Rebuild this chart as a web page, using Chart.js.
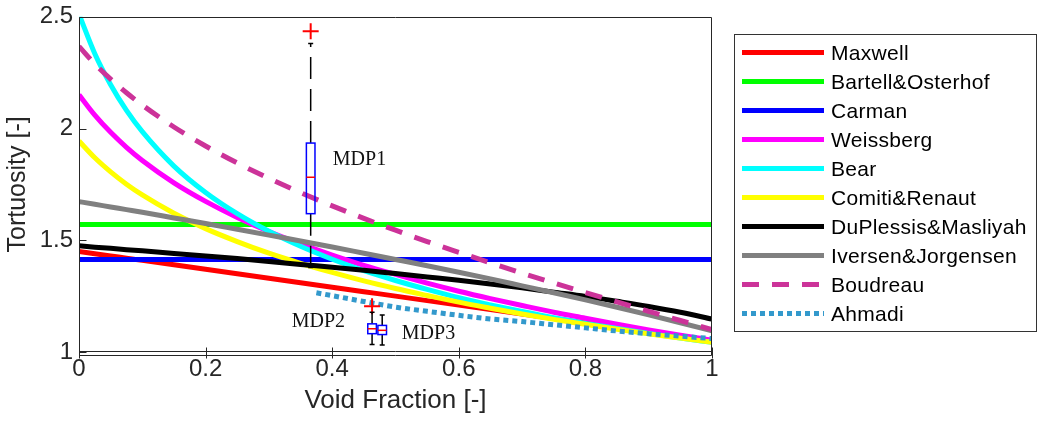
<!DOCTYPE html>
<html>
<head>
<meta charset="utf-8">
<script src="https://cdn.jsdelivr.net/npm/chart.js@4.4.1/dist/chart.umd.min.js"></script>
<style>
  html, body { margin: 0; padding: 0; background: #ffffff; }
  canvas { display: block; }
</style>
</head>
<body>
<canvas id="chart" width="1038" height="421"></canvas>
<script>
// ---- Model curves: tortuosity against void fraction ----
const voidFraction = [0, 0.025, 0.05, 0.075, 0.1, 0.15, 0.2, 0.25, 0.3, 0.35, 0.4, 0.45, 0.5,
                      0.55, 0.6, 0.65, 0.7, 0.75, 0.8, 0.85, 0.9, 0.95, 1];
const maxwell = [1.45, 1.44, 1.43, 1.42, 1.41, 1.39, 1.37, 1.35, 1.33, 1.31, 1.29, 1.27, 1.25,
                 1.23, 1.21, 1.19, 1.17, 1.15, 1.13, 1.11, 1.09, 1.07, 1.05];
const weissberg = [2.151, 2.060, 1.983, 1.916, 1.857, 1.757, 1.674, 1.602, 1.539, 1.484, 1.434, 1.388, 1.347,
                   1.308, 1.272, 1.239, 1.208, 1.178, 1.151, 1.124, 1.099, 1.075, 1.053];
const bear = [2.512, 2.335, 2.196, 2.081, 1.986, 1.832, 1.714, 1.619, 1.540, 1.473, 1.415, 1.364, 1.320,
              1.280, 1.243, 1.211, 1.181, 1.153, 1.128, 1.105, 1.083, 1.062, 1.043];
const comitiRenaut = [1.944, 1.869, 1.806, 1.751, 1.703, 1.621, 1.552, 1.494, 1.442, 1.397, 1.356, 1.318, 1.284,
                      1.253, 1.223, 1.196, 1.170, 1.146, 1.124, 1.102, 1.081, 1.062, 1.043];
const duPlessisMasliyah = [1.475, 1.469, 1.464, 1.458, 1.453, 1.441, 1.430, 1.418, 1.405, 1.392, 1.379, 1.366, 1.351,
                           1.336, 1.321, 1.304, 1.287, 1.268, 1.249, 1.227, 1.204, 1.178, 1.147];
const iversenJorgensen = [1.673, 1.661, 1.649, 1.637, 1.625, 1.600, 1.575, 1.549, 1.523, 1.497, 1.470, 1.442, 1.414,
                          1.386, 1.357, 1.327, 1.296, 1.265, 1.233, 1.200, 1.166, 1.131, 1.095];
const boudreau = [2.368, 2.289, 2.221, 2.160, 2.105, 2.007, 1.922, 1.846, 1.777, 1.713, 1.654, 1.598, 1.545,
                  1.494, 1.446, 1.399, 1.353, 1.309, 1.266, 1.224, 1.182, 1.141, 1.100];

// Constant models span the whole axis
const fullRange = [0, 1];
const bartellOsterhof = [1.571, 1.571];
const carman = [1.414, 1.414];

// Ahmadi is only defined from about 0.375 upwards
const ahmadiFraction = [0.375, 0.4, 0.45, 0.5, 0.55, 0.6, 0.65, 0.7, 0.75, 0.8, 0.85, 0.9, 0.95, 1];
const ahmadi = [1.265, 1.252, 1.226, 1.201, 1.182, 1.164, 1.148, 1.136, 1.122, 1.108, 1.094, 1.082, 1.071, 1.060];

// ---- Measured distributions (box plots) ----
const boxNames = ['MDP1', 'MDP2', 'MDP3'];
const boxPosition = [0.366, 0.463, 0.479];
const boxLowerWhisker = [1.378, 1.034, 1.031];
const boxQ1 = [1.619, 1.082, 1.078];
const boxMedian = [1.782, 1.104, 1.097];
const boxQ3 = [1.935, 1.126, 1.119];
const boxUpperWhisker = [2.380, 1.178, 1.166];
const outlierPosition = [0.366, 0.463];
const outlierValue = [2.435, 1.205];

// ---- Axis ticks ----
const xTickStep = 0.2;
const yTickStep = 0.5;

const FONT = "'Liberation Sans', Arial, Helvetica, sans-serif";
const AXIS_COLOR = '#262626';

function curve(label, xs, ys, color, extra) {
  return Object.assign({
    type: 'line',
    label: label,
    data: xs.map((x, i) => ({ x: x, y: ys[i] })),
    borderColor: color,
    backgroundColor: color,
    borderWidth: 5,
    borderCapStyle: 'butt',
    pointRadius: 0,
    fill: false,
    cubicInterpolationMode: 'monotone',
    clip: 0,
    inLegend: true
  }, extra || {});
}

const curves = [
  curve('Maxwell', voidFraction, maxwell, '#ff0000'),
  curve('Bartell&Osterhof', fullRange, bartellOsterhof, '#00ff00'),
  curve('Carman', fullRange, carman, '#0000ff'),
  curve('Weissberg', voidFraction, weissberg, '#ff00ff'),
  curve('Bear', voidFraction, bear, '#00ffff'),
  curve('Comiti&Renaut', voidFraction, comitiRenaut, '#ffff00'),
  curve('DuPlessis&Masliyah', voidFraction, duPlessisMasliyah, '#000000'),
  curve('Iversen&Jorgensen', voidFraction, iversenJorgensen, '#808080'),
  curve('Boudreau', voidFraction, boudreau, '#cc3399', { borderDash: [17, 13] }),
  curve('Ahmadi', ahmadiFraction, ahmadi, '#3399cc', { borderDash: [5, 4] })
];
// later curves are painted over earlier ones
curves.forEach((d, i) => { d.order = curves.length - i + 1; });

const outliers = {
  type: 'line',
  label: 'outliers',
  data: outlierPosition.map((x, i) => ({ x: x, y: outlierValue[i] })),
  showLine: false,
  pointStyle: 'cross',
  pointRadius: 8,
  pointBorderWidth: 2,
  pointBorderColor: '#ff0000',
  borderColor: '#ff0000',
  clip: false,
  order: 0,
  inLegend: false
};

// Axes frame, inward ticks and the doubled bottom rule
const framePlugin = {
  id: 'frame',
  afterDraw(chart) {
    const { ctx, chartArea: a, scales } = chart;
    const L = Math.round(a.left) + 0.5, R = Math.round(a.right) - 0.5;
    const T = Math.round(a.top) + 0.5, B = Math.round(a.bottom) - 0.5;
    ctx.save();
    ctx.strokeStyle = AXIS_COLOR;
    ctx.lineWidth = 1;
    ctx.beginPath();
    ctx.moveTo(L, B + 4); ctx.lineTo(L, T); ctx.lineTo(R, T); ctx.lineTo(R, B + 4);
    ctx.moveTo(L, B); ctx.lineTo(R, B);
    ctx.moveTo(L, B + 4); ctx.lineTo(R, B + 4);
    scales.x.ticks.forEach(t => {
      const px = Math.round(scales.x.getPixelForValue(t.value)) + 0.5;
      ctx.moveTo(px, B - 4); ctx.lineTo(px, B + 7);
    });
    scales.y.ticks.forEach(t => {
      const py = Math.round(scales.y.getPixelForValue(t.value)) + 0.5;
      ctx.moveTo(L, py); ctx.lineTo(L + 7, py);
    });
    ctx.stroke();
    ctx.restore();
  }
};

// Box plots of the measured distributions and their labels
const boxPlotPlugin = {
  id: 'boxPlot',
  afterDatasetsDraw(chart, args, opts) {
    const { ctx, scales: { x, y } } = chart;
    const w = opts.halfWidth, c = opts.capHalfWidth;
    ctx.save();
    for (let i = 0; i < boxPosition.length; i++) {
      const px = x.getPixelForValue(boxPosition[i]);
      const yLo = y.getPixelForValue(boxLowerWhisker[i]);
      const yQ1 = y.getPixelForValue(boxQ1[i]);
      const yMed = y.getPixelForValue(boxMedian[i]);
      const yQ3 = y.getPixelForValue(boxQ3[i]);
      const yHi = y.getPixelForValue(boxUpperWhisker[i]);

      ctx.strokeStyle = '#000000';
      ctx.lineWidth = 1.5;
      ctx.setLineDash(opts.whiskerDash);
      ctx.beginPath();
      ctx.moveTo(px, yQ3); ctx.lineTo(px, yHi);
      ctx.moveTo(px, yQ1); ctx.lineTo(px, yLo);
      ctx.stroke();
      ctx.setLineDash([]);
      ctx.beginPath();
      ctx.moveTo(px - c, yHi); ctx.lineTo(px + c, yHi);
      ctx.moveTo(px - c, yLo); ctx.lineTo(px + c, yLo);
      ctx.stroke();

      ctx.strokeStyle = '#0000ff';
      ctx.strokeRect(px - w, yQ3, 2 * w, yQ1 - yQ3);

      ctx.strokeStyle = '#ff0000';
      ctx.beginPath();
      ctx.moveTo(px - w, yMed); ctx.lineTo(px + w, yMed);
      ctx.stroke();
    }
    ctx.fillStyle = '#111111';
    ctx.font = opts.labelFont;
    ctx.textAlign = 'left';
    ctx.textBaseline = 'middle';
    opts.labels.forEach((lab, i) => {
      ctx.fillText(boxNames[i], x.getPixelForValue(lab.x), y.getPixelForValue(lab.y));
    });
    ctx.restore();
  }
};

// Framed legend on the right, one line sample per model
const legendPlugin = {
  id: 'sideLegend',
  afterDraw(chart, args, o) {
    const { ctx } = chart;
    ctx.save();
    ctx.strokeStyle = '#333333';
    ctx.lineWidth = 1;
    ctx.strokeRect(o.left, o.top, o.right - o.left, o.bottom - o.top);
    ctx.font = o.font;
    ctx.fillStyle = '#000000';
    ctx.textAlign = 'left';
    ctx.textBaseline = 'alphabetic';
    if ('letterSpacing' in ctx) ctx.letterSpacing = o.letterSpacing;
    let row = 0;
    chart.data.datasets.forEach(ds => {
      if (!ds.inLegend) return;
      const yy = o.firstRow + row * o.rowStep;
      ctx.strokeStyle = ds.borderColor;
      ctx.lineWidth = ds.borderWidth;
      ctx.lineCap = 'butt';
      ctx.setLineDash(ds.borderDash || []);
      ctx.beginPath();
      ctx.moveTo(o.lineStart, yy); ctx.lineTo(o.lineEnd, yy);
      ctx.stroke();
      ctx.setLineDash([]);
      ctx.fillText(ds.label, o.textStart, yy + 7.5);
      row++;
    });
    ctx.restore();
  }
};

new Chart(document.getElementById('chart'), {
  type: 'line',
  data: { datasets: curves.concat([outliers]) },
  options: {
    responsive: false,
    animation: false,
    devicePixelRatio: 1,
    events: [],
    layout: { padding: { left: 0, top: 12, right: 326, bottom: 0 } },
    font: { family: FONT },
    scales: {
      x: {
        type: 'linear',
        min: 0,
        max: 1,
        ticks: { stepSize: xTickStep, padding: 3, color: AXIS_COLOR, font: { family: FONT, size: 24 }, maxRotation: 0, autoSkip: false,
                 callback: v => String(Math.round(v * 10) / 10) },
        grid: { display: false, drawTicks: false },
        border: { display: false },
        title: { display: true, text: 'Void Fraction [-]', color: AXIS_COLOR, font: { family: FONT, size: 26 }, padding: { top: 0, bottom: 5 } },
        afterFit(s) { s.height = 69; }
      },
      y: {
        type: 'linear',
        min: 1,
        max: 2.5,
        ticks: { stepSize: yTickStep, padding: 6, color: AXIS_COLOR, font: { family: FONT, size: 24, lineHeight: 0.9 }, autoSkip: false,
                 callback: v => String(Math.round(v * 10) / 10) },
        grid: { display: false, drawTicks: false },
        border: { display: false },
        title: { display: true, text: 'Tortuosity [-]', color: AXIS_COLOR, font: { family: FONT, size: 25 }, padding: { top: 3, bottom: 0 } },
        afterFit(s) { s.width = 79; }
      }
    },
    plugins: {
      legend: { display: false },
      tooltip: { enabled: false },
      boxPlot: {
        halfWidth: 4.3,
        capHalfWidth: 2.5,
        whiskerDash: [22, 10],
        labelFont: "20px 'Liberation Serif', 'Times New Roman', serif",
        labels: [ { x: 0.401, y: 1.860 }, { x: 0.336, y: 1.137 }, { x: 0.510, y: 1.082 } ]
      },
      sideLegend: {
        left: 734.5, top: 34.5, right: 1036.5, bottom: 331.5,
        firstRow: 52.5, rowStep: 29,
        lineStart: 742, lineEnd: 824, textStart: 831,
        font: "21px 'Liberation Sans', Arial, sans-serif",
        letterSpacing: '0.3px'
      }
    }
  },
  plugins: [boxPlotPlugin, framePlugin, legendPlugin]
});
</script>
</body>
</html>
